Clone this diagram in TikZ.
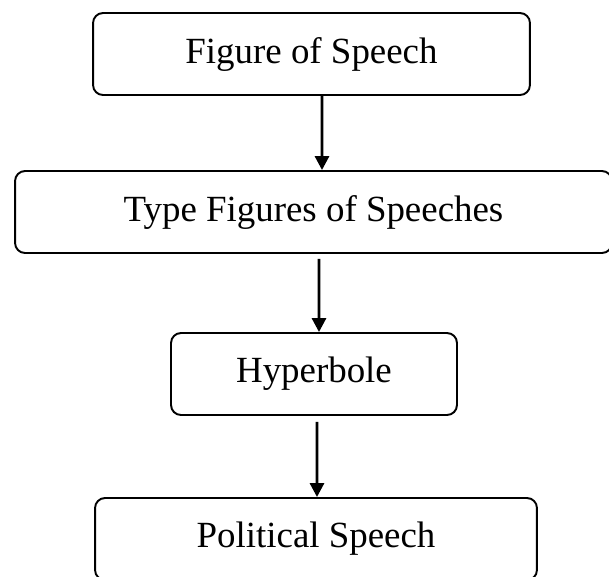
\documentclass[tikz,border=0pt]{standalone}
\usepackage{fontspec}
\setmainfont{Liberation Serif}
\usetikzlibrary{arrows.meta, positioning}

\begin{document}
\begin{tikzpicture}[x=0.02cm, y=-0.02cm, ->, >={Triangle[length=0.28cm, width=0.28cm]}, line width=1.7pt]
  \tikzstyle{stage} = [rectangle, rounded corners=0.2cm, draw, line width=1.1pt, minimum height=1.64cm, align=center, font=\fontsize{21}{25}\selectfont]

  \useasboundingbox (0,0) rectangle (609,576);
  \clip (0,0) rectangle (609,576);

  \node[stage, minimum width=8.74cm] (Figure) at (311.5,54) {Figure of Speech};
  \node[stage, minimum width=11.94cm] (Types) at (313.5,212) {Type Figures of Speeches};
  \node[stage, minimum width=5.72cm] (Hyper) at (314,374) {Hyperbole};
  \node[stage, minimum width=8.84cm] (Political) at (316,539) {Political Speech};

  \draw ([xshift=0.21cm]Figure.south) -- ([xshift=0.17cm]Types.north);
  \draw[shorten <=0.1cm] ([xshift=0.11cm]Types.south) -- ([xshift=0.1cm]Hyper.north);
  \draw[shorten <=0.12cm] ([xshift=0.06cm]Hyper.south) -- ([xshift=0.02cm]Political.north);
\end{tikzpicture}
\end{document}
